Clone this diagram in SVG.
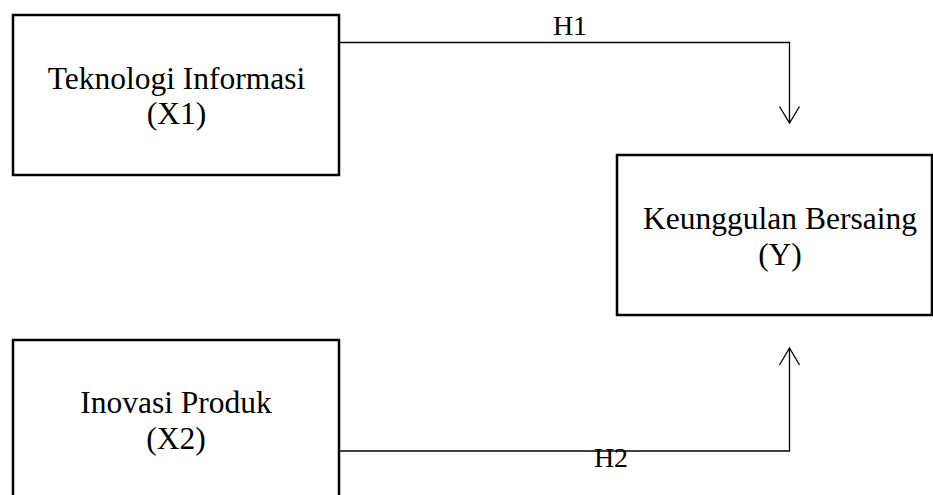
<svg xmlns="http://www.w3.org/2000/svg" width="933" height="495" viewBox="0 0 933 495">
<style>
.box{fill:#fff;stroke:#000;stroke-width:2.5}
.t{font-family:"Liberation Serif","Times New Roman",serif;font-size:31.5px;fill:#000;text-anchor:middle}
.lbl{font-family:"Liberation Serif","Times New Roman",serif;font-size:28px;fill:#000;text-anchor:middle}
.c{fill:none;stroke:#000;stroke-width:1.3}
</style>
<rect width="933" height="495" fill="#fff"/>
<g id="connectors">
<polyline class="c" points="340,42.5 789.5,42.5 789.5,123"/>
<polyline class="c" points="779.5,106.5 789.5,123 799.5,106.5"/>
<text class="lbl" x="570" y="35">H1</text>
<polyline class="c" points="340,451 789.5,451 789.5,348"/>
<polyline class="c" points="779.5,365 789.5,348 799.5,365"/>
<text class="lbl" x="611" y="467">H2</text>
</g>
<g id="node-x1">
<rect class="box" x="13" y="15" width="326" height="160"/>
<text class="t" x="176.5" y="89">Teknologi Informasi</text>
<text class="t" x="176.5" y="124">(X1)</text>
</g>
<g id="node-y">
<rect class="box" x="617" y="155" width="315" height="160"/>
<text class="t" x="780" y="229">Keunggulan Bersaing</text>
<text class="t" x="780" y="265">(Y)</text>
</g>
<g id="node-x2">
<rect class="box" x="13" y="340" width="326" height="170"/>
<text class="t" x="176" y="413">Inovasi Produk</text>
<text class="t" x="176" y="449">(X2)</text>
</g>
</svg>
